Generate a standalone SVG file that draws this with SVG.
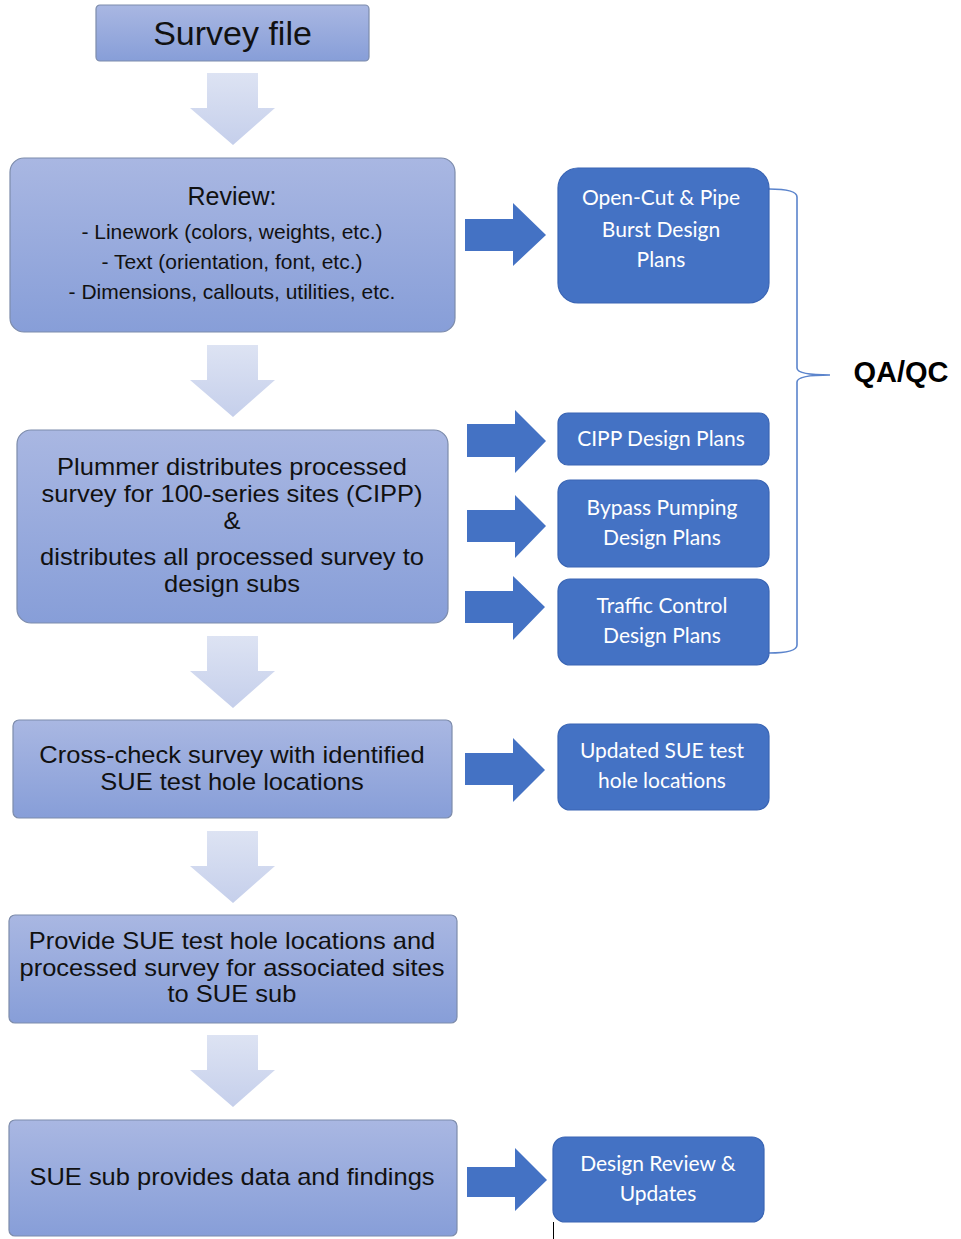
<svg xmlns="http://www.w3.org/2000/svg" width="961" height="1239" viewBox="0 0 961 1239">
<defs>
<linearGradient id="boxg" x1="0" y1="0" x2="0" y2="1">
<stop offset="0" stop-color="#a9b7e2"/>
<stop offset="1" stop-color="#879ed8"/>
</linearGradient>
<linearGradient id="arrg" x1="0" y1="0" x2="0" y2="1">
<stop offset="0" stop-color="#dde3f3"/>
<stop offset="1" stop-color="#c5cfeb"/>
</linearGradient>
<path id="down" d="M207,0 H258 V35 H275 L233,72 L190,35 H207 Z"/>
</defs>
<style>
.box{fill:url(#boxg);stroke:#7d8cab;stroke-width:1.2}
.blue{fill:#4472c4;stroke:#3a65b4;stroke-width:1.2}
.darr{fill:url(#arrg)}
.rarr{fill:#4472c4}
.t{font-family:"Liberation Sans",Arial,sans-serif;fill:#111;text-anchor:middle}
.b{font-size:23px}
.w{font-family:Lato,"Open Sans",sans-serif;fill:#ffffff;text-anchor:middle;font-size:21px}
</style>
<rect width="961" height="1239" fill="#ffffff"/>

<g id="connectors">
<use href="#down" class="darr" y="73"/>
<use href="#down" class="darr" y="345"/>
<use href="#down" class="darr" y="636"/>
<use href="#down" class="darr" y="831"/>
<use href="#down" class="darr" y="1035"/>
<path class="rarr" d="M465,219 H513 V203 L546,235 L513,266 V251 H465 Z"/>
<path class="rarr" d="M467,424 H515 V410 L546,441 L515,473 V457 H467 Z"/>
<path class="rarr" d="M467,510 H515 V495 L546,526 L515,558 V542 H467 Z"/>
<path class="rarr" d="M465,591 H513 V576 L545,607 L513,640 V623 H465 Z"/>
<path class="rarr" d="M465,753 H513 V738 L545,770 L513,802 V785 H465 Z"/>
<path class="rarr" d="M467,1167 H515 V1148 L547,1180 L515,1211 V1197 H467 Z"/>
<path d="M769,189 Q797,189 797,197 V368 Q797,375 830,375 Q797,375 797,382 V645 Q797,653 769,653" fill="none" stroke="#5b84cc" stroke-width="1.6"/>
</g>

<g id="survey-file">
<rect class="box" x="96" y="5" width="273" height="56" rx="4"/>
<text class="t" x="232.5" y="45" font-size="34">Survey file</text>
</g>

<g id="review">
<rect class="box" x="10" y="158" width="445" height="174" rx="14"/>
<text class="t" x="232" y="205" font-size="25">Review:</text>
<text class="t" x="232" y="239" font-size="21">- Linework (colors, weights, etc.)</text>
<text class="t" x="232" y="269" font-size="21">- Text (orientation, font, etc.)</text>
<text class="t" x="232" y="299" font-size="21">- Dimensions, callouts, utilities, etc.</text>
</g>

<g id="plummer">
<rect class="box" x="17" y="430" width="431" height="193" rx="14"/>
<g transform="translate(232,0) scale(1.109,1) translate(-232,0)">
<text class="t b" x="232" y="475">Plummer distributes processed</text>
<text class="t b" x="232" y="502">survey for 100-series sites (CIPP)</text>
<text class="t b" x="232" y="529">&amp;</text>
<text class="t b" x="232" y="565">distributes all processed survey to</text>
<text class="t b" x="232" y="592">design subs</text>
</g>
</g>

<g id="cross-check">
<rect class="box" x="13" y="720" width="439" height="98" rx="6"/>
<g transform="translate(232,0) scale(1.109,1) translate(-232,0)">
<text class="t b" x="232" y="763">Cross-check survey with identified</text>
<text class="t b" x="232" y="790">SUE test hole locations</text>
</g>
</g>

<g id="provide">
<rect class="box" x="9" y="915" width="448" height="108" rx="6"/>
<g transform="translate(232,0) scale(1.109,1) translate(-232,0)">
<text class="t b" x="232" y="949">Provide SUE test hole locations and</text>
<text class="t b" x="232" y="976">processed survey for associated sites</text>
<text class="t b" x="232" y="1002">to SUE sub</text>
</g>
</g>

<g id="sue-sub">
<rect class="box" x="9" y="1120" width="448" height="116" rx="6"/>
<g transform="translate(232,0) scale(1.109,1) translate(-232,0)">
<text class="t b" x="232" y="1185">SUE sub provides data and findings</text>
</g>
</g>

<g id="open-cut">
<rect class="blue" x="558" y="168" width="211" height="135" rx="20"/>
<text class="w" x="661" y="205">Open-Cut &amp; Pipe</text>
<text class="w" x="661" y="237">Burst Design</text>
<text class="w" x="661" y="267">Plans</text>
</g>

<g id="cipp">
<rect class="blue" x="558" y="413" width="211" height="52" rx="10"/>
<text class="w" x="661" y="446">CIPP Design Plans</text>
</g>

<g id="bypass">
<rect class="blue" x="558" y="480" width="211" height="87" rx="12"/>
<text class="w" x="662" y="515">Bypass Pumping</text>
<text class="w" x="662" y="545">Design Plans</text>
</g>

<g id="traffic">
<rect class="blue" x="558" y="579" width="211" height="86" rx="12"/>
<text class="w" x="662" y="613">Traffic Control</text>
<text class="w" x="662" y="643">Design Plans</text>
</g>

<g id="updated-sue">
<rect class="blue" x="558" y="724" width="211" height="86" rx="12"/>
<text class="w" x="662" y="758">Updated SUE test</text>
<text class="w" x="662" y="788">hole locations</text>
</g>

<g id="design-review">
<rect class="blue" x="553" y="1137" width="211" height="85" rx="12"/>
<text class="w" x="658" y="1171">Design Review &amp;</text>
<text class="w" x="658" y="1201">Updates</text>
</g>

<g id="qaqc">
<text x="901" y="382" font-family="'Liberation Sans',Arial,sans-serif" font-weight="bold" font-size="29" fill="#000" text-anchor="middle">QA/QC</text>
</g>

<line x1="553.5" y1="1222" x2="553.5" y2="1239" stroke="#000" stroke-width="1"/>
</svg>
